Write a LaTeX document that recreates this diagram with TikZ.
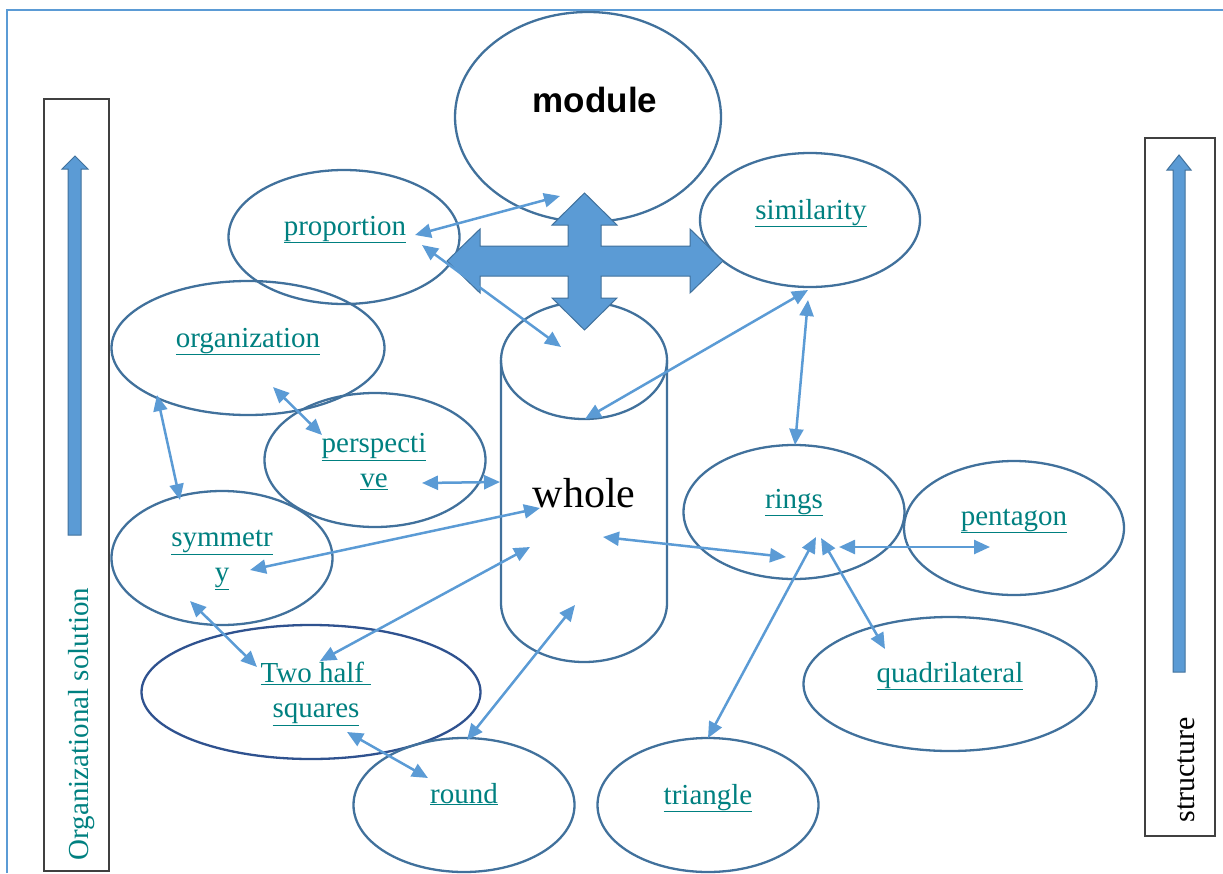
\documentclass[tikz,border=0pt]{standalone}
\usepackage{fontspec}
\setmainfont{Liberation Serif}
\newfontfamily\headfont{Liberation Sans}
\usetikzlibrary{shapes.geometric,arrows.meta,calc}
\definecolor{frameblue}{RGB}{91,155,213}
\definecolor{rimblue}{RGB}{65,113,156}
\definecolor{navyrim}{RGB}{47,82,143}
\definecolor{linkteal}{RGB}{0,128,128}
\definecolor{boxgray}{RGB}{64,64,64}

\begin{document}
\begin{tikzpicture}[x=1pt,y=-1pt,
    oval/.style={ellipse, draw=rimblue, line width=2.3pt, inner sep=0pt},
    term/.style={text=linkteal, font=\fontsize{29}{35}\selectfont, align=center, inner sep=0pt},
    link/.style={frameblue, line width=2.5pt, {Triangle[length=16pt,width=14pt]}-{Triangle[length=16pt,width=14pt]}},
    blockarrow/.style={fill=frameblue, draw=rimblue, line width=1pt},
    sidebox/.style={draw=boxgray, line width=1.2pt}]
    \useasboundingbox (0,0) rectangle (1223,873);

    % Page frame
    \draw[frameblue, line width=2pt] (7,873) -- (7,10) -- (1223,10);

    % Side boxes with upward arrows
    \draw[sidebox] (44,99) rectangle (109,871);
    \draw[blockarrow] (68,535) -- (68,169) -- (62,169) -- (75,156) -- (88,169) -- (81,169) -- (81,535) -- cycle;
    \node[text=linkteal, font=\fontsize{29}{35}\selectfont, rotate=90, inner sep=0pt] (orgsol) at (82,724) {Organizational solution};
    \draw[sidebox] (1145,138) rectangle (1215,836);
    \draw[blockarrow] (1173,672) -- (1173,170) -- (1167,170) -- (1179,155) -- (1191,170) -- (1185,170) -- (1185,672) -- cycle;
    \node[font=\fontsize{30}{36}\selectfont, rotate=90, inner sep=0pt] (struct) at (1186,770) {structure};

    % Ellipses
    \node[oval, minimum width=266pt, minimum height=210pt] (mod) at (588,117) {};
    \node[oval, minimum width=231pt, minimum height=134pt] (prop) at (344,237) {};
    \node[oval, minimum width=220pt, minimum height=134pt] (sim) at (810,220) {};
    \node[oval, minimum width=273pt, minimum height=134pt] (org) at (248,348) {};
    \node[oval, minimum width=221pt, minimum height=134pt] (pers) at (375,460) {};
    \node[oval, minimum width=221pt, minimum height=134pt] (sym) at (222,558) {};
    \node[oval, draw=navyrim, minimum width=339pt, minimum height=134pt] (half) at (311,692) {};
    \node[oval, minimum width=221pt, minimum height=134pt] (rnd) at (464,805) {};
    \node[oval, minimum width=221pt, minimum height=134pt] (tri) at (708,805) {};
    \node[oval, minimum width=221pt, minimum height=134pt] (ring) at (794,512) {};
    \node[oval, minimum width=220pt, minimum height=134pt] (pent) at (1014,528) {};
    \node[oval, minimum width=293pt, minimum height=134pt] (quad) at (950,684) {};

    % Cylinder
    \coordinate (cyl) at (584,480);
    \draw[rimblue, line width=2.3pt] (501,360) -- (501,603) arc[start angle=180, end angle=360, x radius=83pt, y radius=59pt] -- (667,360);
    \draw[rimblue, line width=2.3pt] (584,360.5) ellipse[x radius=83pt, y radius=58.5pt];

    % Four-way arrow
    \draw[blockarrow] (447,261) -- (480,229) -- (480,246) -- (568,246) -- (568,225) -- (552,225) -- (584.5,193)
        -- (617,225) -- (601,225) -- (601,246) -- (690,246) -- (690,229) -- (723,261) -- (690,293) -- (690,276)
        -- (601,276) -- (601,298) -- (617,298) -- (584.5,330) -- (552,298) -- (568,298) -- (568,276) -- (480,276)
        -- (480,293) -- cycle;

    % Labels
    \node[anchor=base, font=\headfont\bfseries\fontsize{35}{40}\selectfont, inner sep=0pt] (modT) at (595,112) {module};
    \node[anchor=base, font=\fontsize{42}{50}\selectfont, inner sep=0pt] (wholeT) at (584,507) {whole};
    \node[term, anchor=base] (propT) at (345,235) {\underline{proportion}};
    \node[term, anchor=base] (simT) at (811,219) {\underline{similarity}};
    \node[term, anchor=base] (orgT) at (248,347) {\underline{organization}};
    \node[term] (persT) at (374,462) {\underline{perspecti}\\\underline{ve}};
    \node[term] (symT) at (222,560) {\underline{symmetr}\\\underline{y}};
    \node[term] (halfT) at (316,694) {\underline{Two half\ }\\\underline{squares}};
    \node[term, anchor=base] (rndT) at (464,803) {\underline{round}};
    \node[term, anchor=base] (triT) at (708,804) {\underline{triangle}};
    \node[term, anchor=base] (ringT) at (794,508) {\underline{rings}};
    \node[term, anchor=base] (pentT) at (1014,525) {\underline{pentagon}};
    \node[term, anchor=base] (quadT) at (950,682) {\underline{quadrilateral}};

    % Connectors
    \draw[link] ($(prop)+(71,-2)$) -- ($(mod)+(-28,79)$);
    \draw[link] ($(prop)+(78,8)$) -- ($(cyl)+(-23,-133)$);
    \draw[link] ($(sim)+(-2,70)$) -- ($(cyl)+(1,-61)$);
    \draw[link] ($(sim)+(-2,80)$) -- ($(ring)+(1,-67)$);
    \draw[link] ($(org)+(25,39)$) -- ($(pers)+(-53,-25)$);
    \draw[link] ($(org)+(-91,47)$) -- ($(sym)+(-42,-58)$);
    \draw[link] ($(pers)+(47,23)$) -- ($(cyl)+(-84,2)$);
    \draw[link] ($(sym)+(28,12)$) -- ($(cyl)+(-44,28)$);
    \draw[link] ($(sym)+(-32,43)$) -- ($(half)+(-54,-25)$);
    \draw[link] ($(half)+(9,-31)$) -- ($(cyl)+(-54,67)$);
    \draw[link] ($(half)+(36,40)$) -- ($(rnd)+(-36,-27)$);
    \draw[link] ($(rnd)+(3,-65)$) -- ($(cyl)+(-9,125)$);
    \draw[link] ($(cyl)+(19,57)$) -- ($(ring)+(-8,45)$);
    \draw[link] ($(tri)+(0,-67)$) -- ($(ring)+(22,25)$);
    \draw[link] ($(ring)+(45,35)$) -- ($(pent)+(-24,19)$);
    \draw[link] ($(ring)+(27,26)$) -- ($(quad)+(-65,-35)$);
\end{tikzpicture}
\end{document}
